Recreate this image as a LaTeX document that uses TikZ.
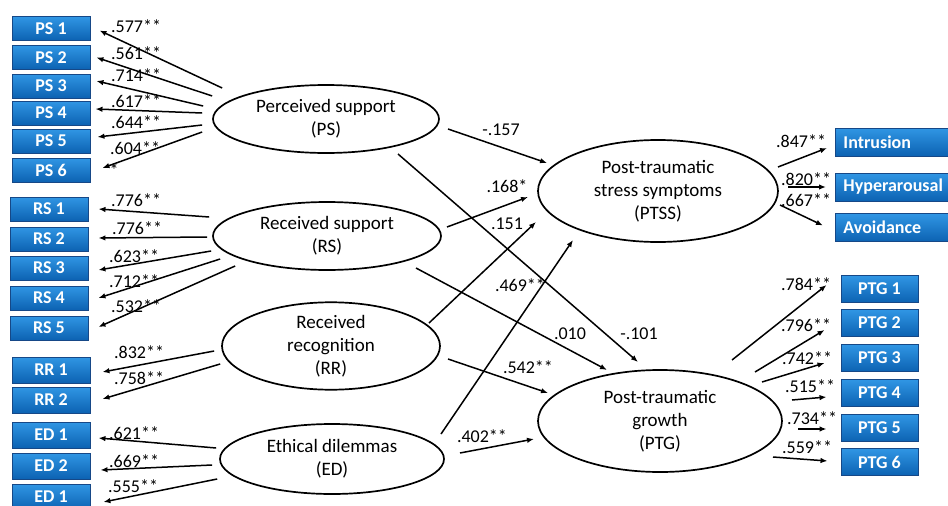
\documentclass[tikz,border=0pt]{standalone}
\usepackage{fontspec}
\setmainfont{Carlito}
\usetikzlibrary{arrows.meta,shapes.geometric}
\definecolor{boxtop}{RGB}{48,150,228}
\definecolor{boxbot}{RGB}{12,98,178}
\definecolor{boxedge}{RGB}{22,72,135}
\begin{document}
\begin{tikzpicture}[x=1pt,y=-1pt,
  bx/.style={draw=boxedge, line width=0.9pt, top color=boxtop, bottom color=boxbot,
    text=white, font=\fontsize{18}{20}\selectfont\bfseries, inner sep=0pt},
  lbox/.style={bx, minimum width=78pt, minimum height=24pt},
  gbox/.style={bx, minimum width=77pt, minimum height=27pt},
  sbox/.style={bx, anchor=west, minimum height=28pt, text width=109pt, align=left, inner xsep=8pt},
  lat/.style={ellipse, draw, line width=1.7pt, align=center, inner sep=0pt,
    font=\fontsize{19}{23}\selectfont},
  arr/.style={line width=1.5pt, -{Latex[length=7pt,width=5.5pt]}},
  lab/.style={font=\fontsize{18}{18}\selectfont, inner sep=0pt},
  labw/.style={lab, anchor=west}]
\clip (0,0) rectangle (948,506);
\fill[white] (0,0) rectangle (948,506);

% left indicator boxes
\node[lbox] (ps1) at (51,28.5) {PS 1};
\node[lbox] (ps2) at (51,57.5) {PS 2};
\node[lbox] (ps3) at (51,86) {PS 3};
\node[lbox] (ps4) at (51,113) {PS 4};
\node[lbox] (ps5) at (51,141) {PS 5};
\node[lbox] (ps6) at (51,170) {PS 6};
\node[lbox] (rs1) at (49,209) {RS 1};
\node[lbox] (rs2) at (49,239) {RS 2};
\node[lbox] (rs3) at (49,268) {RS 3};
\node[lbox] (rs4) at (49,298) {RS 4};
\node[lbox] (rs5) at (49,328) {RS 5};
\node[lbox, minimum height=26pt] (rr1) at (51,370) {RR 1};
\node[lbox, minimum height=26pt] (rr2) at (51,400) {RR 2};
\node[lbox, minimum height=26pt] (ed1) at (51,435) {ED 1};
\node[lbox, minimum height=26pt] (ed2) at (51,466) {ED 2};
\node[lbox, minimum height=26pt] (ed3) at (51,497) {ED 1};

% right indicator boxes
\node[sbox] (intr) at (835,142) {Intrusion};
\node[sbox] (hyp) at (835,187) {Hyperarousal};
\node[sbox] (avd) at (835,227.5) {Avoidance};
\node[gbox] (g1) at (879.5,289) {PTG 1};
\node[gbox] (g2) at (879.5,323) {PTG 2};
\node[gbox] (g3) at (879.5,358) {PTG 3};
\node[gbox] (g4) at (879.5,393) {PTG 4};
\node[gbox] (g5) at (879.5,428) {PTG 5};
\node[gbox] (g6) at (879.5,462) {PTG 6};

% latent variables
\node[lat, minimum width=226pt, minimum height=68pt] (ps) at (326,119) {Perceived support\\(PS)};
\node[lat, minimum width=228pt, minimum height=68pt] (rs) at (327,236) {Received support\\(RS)};
\node[lat, minimum width=218pt, minimum height=74pt] (rr) at (331,346) {Received\\recognition\\(RR)};
\node[lat, minimum width=224pt, minimum height=70pt] (ed) at (332,459) {Ethical dilemmas\\(ED)};
\node[lat, minimum width=240pt, minimum height=102pt] (ptss) at (658,191) {Post-traumatic\\stress symptoms\\(PTSS)};
\node[lat, minimum width=244pt, minimum height=102pt] (ptg) at (660,421) {Post-traumatic\\growth\\(PTG)};

% PS loadings
\draw[arr] ([shift={(10,-31)}]ps.west) -- ([shift={(9,2)}]ps1.east);
\draw[arr] ([shift={(0,-23)}]ps.west) -- ([shift={(6,0)}]ps2.east);
\draw[arr] ([shift={(-9,-13)}]ps.west) -- ([shift={(6,-5)}]ps3.east);
\draw[arr] ([shift={(-10,-6)}]ps.west) -- ([shift={(5,-4)}]ps4.east);
\draw[arr] ([shift={(-10,6)}]ps.west) -- ([shift={(7,-4)}]ps5.east);
\draw[arr] ([shift={(-10,13)}]ps.west) -- ([shift={(12,-2)}]ps6.east);
\node[labw] (l1) at (111,26) {.577**};
\node[labw] (l2) at (111,53) {.561**};
\node[labw] (l3) at (111,75) {.714**};
\node[labw] (l4) at (111,101) {.617**};
\node[labw] (l5) at (111,122) {.644**};
\node[labw] (l6) at (110,148) {.604**};
\node[lab] (st) at (114,170) {*};

% RS loadings
\draw[arr] ([shift={(-3,-19)}]rs.west) -- ([shift={(10,0)}]rs1.east);
\draw[arr] ([shift={(-5,1)}]rs.west) -- ([shift={(10,-1)}]rs2.east);
\draw[arr] ([shift={(-1,15)}]rs.west) -- ([shift={(10,2)}]rs3.east);
\draw[arr] ([shift={(8,23)}]rs.west) -- ([shift={(10,0)}]rs4.east);
\draw[arr] ([shift={(23,30)}]rs.west) -- ([shift={(10,-1)}]rs5.east);
\node[labw] (l7) at (111,200) {.776**};
\node[labw] (l8) at (112,228) {.776**};
\node[labw] (l9) at (109,256) {.623**};
\node[labw] (l10) at (109,281) {.712**};
\node[labw] (l11) at (111,306) {.532**};

% RR loadings
\draw[arr] ([shift={(-7,5)}]rr.west) -- ([shift={(12,2)}]rr1.east);
\draw[arr] ([shift={(-1,18)}]rr.west) -- ([shift={(12,-1)}]rr2.east);
\node[labw] (l12) at (114,352) {.832**};
\node[labw] (l13) at (114,378) {.758**};

% ED loadings
\draw[arr] ([shift={(-3,-11)}]ed.west) -- ([shift={(8,3)}]ed1.east);
\draw[arr] ([shift={(-7,6)}]ed.west) -- ([shift={(10,4)}]ed2.east);
\draw[arr] ([shift={(-2,20)}]ed.west) -- ([shift={(13,5)}]ed3.east);
\node[labw] (l14) at (109,433) {.621**};
\node[labw] (l15) at (109,461) {.669**};
\node[labw] (l16) at (108,486) {.555**};

% structural paths
\draw[arr] ([shift={(122,10)}]ps.center) -- ([shift={(-111,-28)}]ptss.center);
\draw[arr] ([shift={(72,35)}]ps.center) -- ([shift={(-22,-59)}]ptg.center);
\draw[arr] ([shift={(120,-9)}]rs.center) -- ([shift={(-130,6)}]ptss.center);
\draw[arr] ([shift={(89,32)}]rs.center) -- ([shift={(-53,-51)}]ptg.center);
\draw[arr] ([shift={(98,-23)}]rr.center) -- ([shift={(-122,31)}]ptss.center);
\draw[arr] ([shift={(117,13)}]rr.center) -- ([shift={(-112,-28)}]ptg.center);
\draw[arr] ([shift={(109,-25)}]ed.center) -- ([shift={(-85,49)}]ptss.center);
\draw[arr] ([shift={(128,-6)}]ed.center) -- ([shift={(-126,18)}]ptg.center);
\node[lab] (s1) at (501,130) {-.157};
\node[lab] (s2) at (507,186) {.168*};
\node[lab] (s3) at (507,224) {.151};
\node[lab] (s4) at (520,285) {.469**};
\node[lab] (s5) at (570,334) {.010};
\node[lab] (s6) at (639,334) {-.101};
\node[lab] (s7) at (528,367) {.542**};
\node[lab] (s8) at (482,436) {.402**};

% PTSS loadings
\draw[arr] ([shift={(120,-24)}]ptss.center) -- ([shift={(-8,6)}]intr.west);
\draw[arr] ([shift={(130,-4)}]ptss.center) -- ([shift={(-9,0)}]hyp.west);
\draw[arr] ([shift={(122,14)}]ptss.center) -- ([shift={(-12,-2)}]avd.west);
\node[labw] (r1) at (776,141) {.847**};
\node[labw] (r2) at (781,179) {.820**};
\node[labw] (r3) at (781,200) {.667**};

% PTG loadings
\draw[arr] ([shift={(72,-61)}]ptg.center) -- ([shift={(-14,-4)}]g1.west);
\draw[arr] ([shift={(95,-49)}]ptg.center) -- ([shift={(-16,7)}]g2.west);
\draw[arr] ([shift={(102,-39)}]ptg.center) -- ([shift={(-16,5)}]g3.west);
\draw[arr] ([shift={(132,-21)}]ptg.center) -- ([shift={(-14,4)}]g4.west);
\draw[arr] ([shift={(138,8)}]ptg.center) -- ([shift={(-14,1)}]g5.west);
\draw[arr] ([shift={(113,36)}]ptg.center) -- ([shift={(-13,-1)}]g6.west);
\node[labw] (r4) at (781,284) {.784**};
\node[labw] (r5) at (781,325) {.796**};
\node[labw] (r6) at (782,358) {.742**};
\node[labw] (r7) at (785,386) {.515**};
\node[labw] (r8) at (787,418) {.734**};
\node[labw] (r9) at (782,447) {.559**};
\end{tikzpicture}
\end{document}
